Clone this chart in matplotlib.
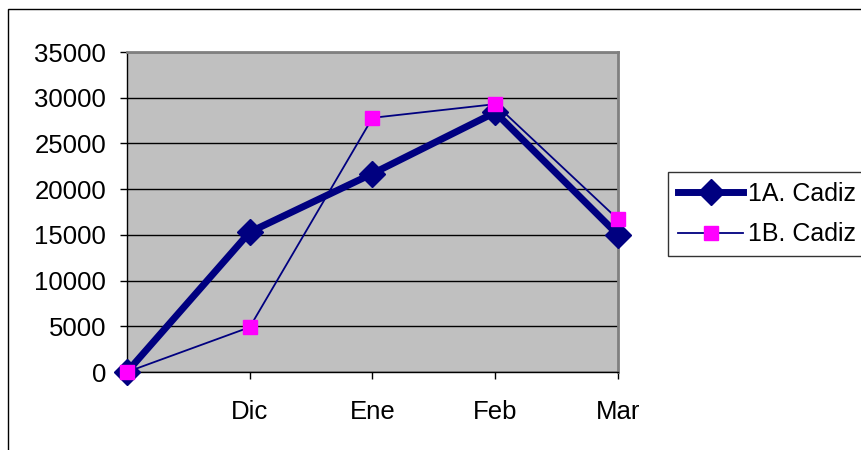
import matplotlib.pyplot as plt
from matplotlib.patches import Rectangle

plt.rcParams['font.family'] = ['Liberation Sans', 'DejaVu Sans']

months = ['', 'Dic', 'Ene', 'Feb', 'Mar']
cadiz_1a = [0, 15300, 21700, 28400, 15000]
cadiz_1b = [0, 4900, 27800, 29300, 16700]

fig = plt.figure(figsize=(8.62, 4.5), dpi=100)
ax = fig.add_axes([127 / 862, 1 - 372 / 450, 491 / 862, 320 / 450])
ax.set_facecolor('#c0c0c0')

x = list(range(len(months)))
ax.plot(x, cadiz_1a, color='#000080', lw=5, marker='D', ms=13,
        mfc='#000080', mec='#000080', label='1A. Cadiz', zorder=3, clip_on=False)
ax.plot(x, cadiz_1b, color='#000080', lw=1.3, marker='s', ms=10,
        mfc='#ff00ff', mec='#ff00ff', label='1B. Cadiz', zorder=4, clip_on=False)

ax.set_xlim(0, 4)
ax.set_ylim(0, 35000)
ax.set_yticks(range(0, 35001, 5000))
ax.set_xticks(x)
ax.set_xticklabels(months)
ax.yaxis.grid(True, color='black', lw=1)
ax.set_axisbelow(True)
for s in ax.spines.values():
    s.set_color('#808080')
    s.set_linewidth(2)
ax.spines['left'].set_color('black')
ax.spines['left'].set_linewidth(1)
ax.spines['bottom'].set_color('black')
ax.spines['bottom'].set_linewidth(1)
ax.tick_params(axis='both', direction='out', length=5, width=1, labelsize=18.5, pad=10)
ax.tick_params(axis='x', pad=15)

leg = fig.legend(loc='upper left', bbox_to_anchor=(668 / 862, 1 - 172 / 450),
                 fontsize=18, frameon=True, fancybox=False, edgecolor='black',
                 handlelength=2.6, borderpad=0.4, labelspacing=0.65, handletextpad=0.2,
                 borderaxespad=0)
leg.get_frame().set_linewidth(1)

fig.patches.append(Rectangle((8 / 862, -0.1), 1.2, 1 - 9 / 450 + 0.1, transform=fig.transFigure,
                             fill=False, edgecolor='black', lw=1))

fig.savefig('out.png', dpi=100)
